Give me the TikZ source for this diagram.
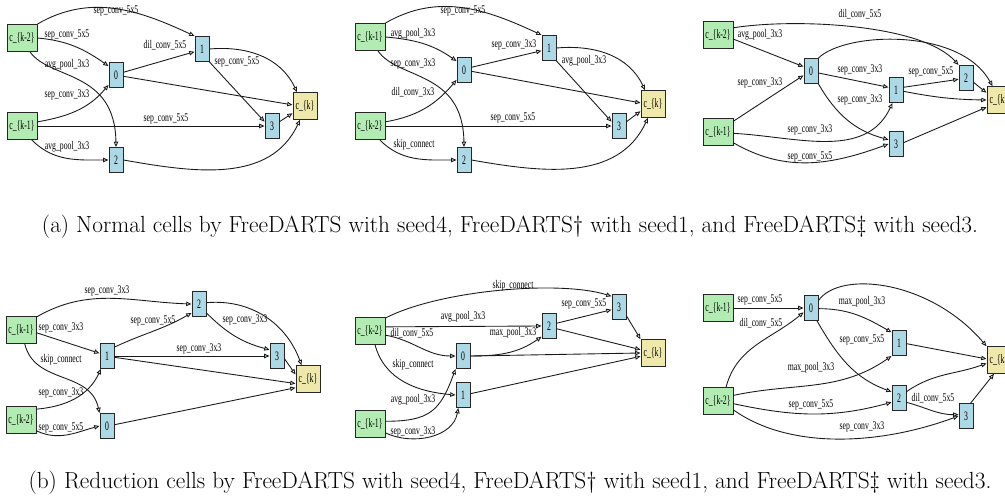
\documentclass[tikz,border=0pt]{standalone}
\usepackage{fontspec}
\usepackage{tikz}
\usetikzlibrary{arrows.meta}
\newfontfamily\opfont[FakeStretch=0.66]{Liberation Serif}
\newfontfamily\cellfont[FakeStretch=0.6]{Liberation Serif}
\definecolor{ingreen}{RGB}{178,236,178}
\definecolor{midblue}{RGB}{173,216,230}
\definecolor{outyellow}{RGB}{238,232,170}
\tikzset{cellnode/.style={rectangle, draw=black!85, line width=0.85pt, inner sep=0pt, font=\cellfont\fontsize{11}{11}\selectfont}}
\tikzset{innode/.style={cellnode, fill=ingreen, minimum width=0.9cm, minimum height=0.81cm}}
\tikzset{midnode/.style={cellnode, fill=midblue, minimum width=0.42cm, minimum height=0.75cm}}
\tikzset{outnode/.style={cellnode, fill=outyellow, minimum width=0.72cm, minimum height=0.8cm}}
\tikzset{oplabel/.style={inner sep=0pt, font=\opfont\fontsize{10}{10}\selectfont}}
\tikzset{opedge/.style={-{Triangle[open, length=4.5pt, width=3.8pt]}, line width=0.75pt, black!90}}
\tikzset{capline/.style={inner sep=0pt, font=\fontsize{19.9}{22}\selectfont}}

\begin{document}
\begin{tikzpicture}[x=0.03cm, y=0.03cm]
    \useasboundingbox (0,0) rectangle (1005,-502);

    % (a) normal cell, seed4
    \node[innode]  (p1c2) at (22,-38)   {c\_\{k-2\}};
    \node[innode]  (p1c1) at (22,-126)  {c\_\{k-1\}};
    \node[midnode] (p1n0) at (116,-75)  {0};
    \node[midnode] (p1n1) at (202,-49)  {1};
    \node[midnode] (p1n2) at (116,-160) {2};
    \node[midnode] (p1n3) at (272,-126) {3};
    \node[outnode] (p1ck) at (305,-106) {c\_\{k\}};

    \draw[opedge] (p1c2.north east) to[out=30,in=155] (p1n1.north west);
    \draw[opedge] (p1c2.east) to[out=-5,in=145] (p1n0.130);
    \draw[opedge] (p1c2.-60) .. controls (50,-80) and (115,-70) .. (p1n2.north);
    \draw[opedge] (p1c1.15) to[out=10,in=-130] (p1n0.-127);
    \draw[opedge] (p1c1.east) -- (p1n3.west);
    \draw[opedge] (p1c1.-55) to[out=-45,in=180] (p1n2.west);
    \draw[opedge] (p1n0.20) -- (p1n1.200);
    \draw[opedge] (p1n0.-10) -- (p1ck.175);
    \draw[opedge] (p1n1.east) to[out=5,in=115] (p1ck.120);
    \draw[opedge] (p1n1.south east) -- (p1n3.150);
    \draw[opedge] (p1n3.30) -- (p1ck.-150);
    \draw[opedge] (p1n2.east) to[out=-10,in=-115] (p1ck.-110);

    \node[oplabel] (p1l1) at (116,-11)  {sep\_conv\_5x5};
    \node[oplabel] (p1l2) at (67,-35)   {sep\_conv\_5x5};
    \node[oplabel] (p1l3) at (67,-65)   {avg\_pool\_3x3};
    \node[oplabel] (p1l4) at (67,-95)   {sep\_conv\_3x3};
    \node[oplabel] (p1l5) at (166,-119) {sep\_conv\_5x5};
    \node[oplabel] (p1l6) at (67,-147)  {avg\_pool\_3x3};
    \node[oplabel] (p1l7) at (165,-45)  {dil\_conv\_5x5};
    \node[oplabel] (p1l8) at (237,-62)  {sep\_conv\_5x5};

    % (a) normal cell, seed1
    \node[innode]  (p2c1) at (370,-37)  {c\_\{k-1\}};
    \node[innode]  (p2c2) at (370,-126) {c\_\{k-2\}};
    \node[midnode] (p2n0) at (464,-70)  {0};
    \node[midnode] (p2n1) at (549,-48)  {1};
    \node[midnode] (p2n2) at (464,-160) {2};
    \node[midnode] (p2n3) at (619,-126) {3};
    \node[outnode] (p2ck) at (653,-104) {c\_\{k\}};

    \draw[opedge] (p2c1.north east) to[out=30,in=155] (p2n1.north west);
    \draw[opedge] (p2c1.east) to[out=-5,in=145] (p2n0.130);
    \draw[opedge] (p2c1.-60) .. controls (398,-80) and (463,-70) .. (p2n2.north);
    \draw[opedge] (p2c2.15) to[out=10,in=-130] (p2n0.-127);
    \draw[opedge] (p2c2.east) -- (p2n3.west);
    \draw[opedge] (p2c2.-55) to[out=-45,in=180] (p2n2.west);
    \draw[opedge] (p2n0.20) -- (p2n1.200);
    \draw[opedge] (p2n0.-10) -- (p2ck.175);
    \draw[opedge] (p2n1.east) to[out=5,in=115] (p2ck.120);
    \draw[opedge] (p2n1.south east) -- (p2n3.150);
    \draw[opedge] (p2n3.30) -- (p2ck.-150);
    \draw[opedge] (p2n2.east) to[out=-10,in=-115] (p2ck.-110);

    \node[oplabel] (p2l1) at (463,-11)  {sep\_conv\_5x5};
    \node[oplabel] (p2l2) at (413,-34)  {avg\_pool\_3x3};
    \node[oplabel] (p2l3) at (413,-64)  {sep\_conv\_3x3};
    \node[oplabel] (p2l4) at (413,-92)  {dil\_conv\_3x3};
    \node[oplabel] (p2l5) at (513,-118) {sep\_conv\_5x5};
    \node[oplabel] (p2l6) at (414,-145) {skip\_connect};
    \node[oplabel] (p2l7) at (514,-45)  {sep\_conv\_3x3};
    \node[oplabel] (p2l8) at (584,-61)  {avg\_pool\_3x3};

    % (a) normal cell, seed3
    \node[innode]  (p3c2) at (718,-35)  {c\_\{k-2\}};
    \node[innode]  (p3c1) at (718,-132) {c\_\{k-1\}};
    \node[midnode] (p3n0) at (811,-71)  {0};
    \node[midnode] (p3n1) at (896,-90)  {1};
    \node[midnode] (p3n2) at (966,-78)  {2};
    \node[midnode] (p3n3) at (896,-144) {3};
    \node[outnode] (p3ck) at (999,-100) {c\_\{k\}};

    \draw[opedge] (p3c2.25) .. controls (795,-18) and (922,-24) .. (p3n2.north west);
    \draw[opedge] (p3c2.-15) -- (p3n0.150);
    \draw[opedge] (p3c1.35) -- (p3n0.-150);
    \draw[opedge] (p3c1.-5) to[out=-3,in=-115] (p3n1.-105);
    \draw[opedge] (p3c1.-35) to[out=-30,in=-160] (p3n3.west);
    \draw[opedge] (p3n0.north east) .. controls (845,-32) and (960,-27) .. (p3ck.115);
    \draw[opedge] (p3n0.-15) -- (p3n1.160);
    \draw[opedge] (p3n0.-60) to[out=-60,in=165] (p3n3.150);
    \draw[opedge] (p3n1.20) -- (p3n2.190);
    \draw[opedge] (p3n1.-10) to[bend right=5] (p3ck.west);
    \draw[opedge] (p3n2.-30) -- (p3ck.150);
    \draw[opedge] (p3n3.10) -- (p3ck.-150);

    \node[oplabel] (p3l1) at (860,-14)  {dil\_conv\_5x5};
    \node[oplabel] (p3l2) at (760,-35)  {avg\_pool\_3x3};
    \node[oplabel] (p3l3) at (760,-83)  {sep\_conv\_3x3};
    \node[oplabel] (p3l4) at (860,-70)  {sep\_conv\_3x3};
    \node[oplabel] (p3l5) at (860,-100) {sep\_conv\_3x3};
    \node[oplabel] (p3l6) at (931,-72)  {sep\_conv\_5x5};
    \node[oplabel] (p3l7) at (810,-130) {sep\_conv\_3x3};
    \node[oplabel] (p3l8) at (810,-157) {sep\_conv\_5x5};

    \node[capline] (capa) at (510,-227) {(a) Normal cells by FreeDARTS with seed4, FreeDARTS\textdagger{} with seed1, and FreeDARTS\textdaggerdbl{} with seed3.};

    % (b) reduction cell, seed4
    \node[innode]  (p4c1) at (21,-330)  {c\_\{k-1\}};
    \node[innode]  (p4c2) at (21,-420)  {c\_\{k-2\}};
    \node[midnode] (p4n1) at (107,-356) {1};
    \node[midnode] (p4n2) at (199,-304) {2};
    \node[midnode] (p4n3) at (277,-356) {3};
    \node[midnode] (p4n0) at (107,-426) {0};
    \node[outnode] (p4ck) at (308,-379) {c\_\{k\}};

    \draw[opedge] (p4c1.40) to[out=30,in=178] (p4n2.west);
    \draw[opedge] (p4c1.-10) -- (p4n1.160);
    \draw[opedge] (p4c1.-75) .. controls (35,-385) and (90,-370) .. (p4n0.north west);
    \draw[opedge] (p4c2.35) to[out=5,in=-115] (p4n1.-115);
    \draw[opedge] (p4c2.-35) to[out=-25,in=-165] (p4n0.west);
    \draw[opedge] (p4n1.50) to[out=25,in=-150] (p4n2.-130);
    \draw[opedge] (p4n1.east) -- (p4n3.west);
    \draw[opedge] (p4n1.-10) -- (p4ck.-160);
    \draw[opedge] (p4n2.-50) to[out=-45,in=165] (p4n3.140);
    \draw[opedge] (p4n2.10) to[out=5,in=110] (p4ck.115);
    \draw[opedge] (p4n3.-20) -- (p4ck.160);
    \draw[opedge] (p4n0.10) -- (p4ck.-145);

    \node[oplabel] (p4l1) at (107,-291) {sep\_conv\_3x3};
    \node[oplabel] (p4l2) at (61,-328)  {sep\_conv\_3x3};
    \node[oplabel] (p4l3) at (61,-360)  {skip\_connect};
    \node[oplabel] (p4l4) at (61,-393)  {sep\_conv\_3x3};
    \node[oplabel] (p4l5) at (61,-428)  {sep\_conv\_5x5};
    \node[oplabel] (p4l6) at (153,-321) {sep\_conv\_5x5};
    \node[oplabel] (p4l7) at (245,-320) {sep\_conv\_3x3};
    \node[oplabel] (p4l8) at (199,-349) {sep\_conv\_3x3};

    % (b) reduction cell, seed1
    \node[innode]  (p5c2) at (370,-331) {c\_\{k-2\}};
    \node[innode]  (p5c1) at (370,-424) {c\_\{k-1\}};
    \node[midnode] (p5n0) at (463,-356) {0};
    \node[midnode] (p5n1) at (463,-395) {1};
    \node[midnode] (p5n2) at (549,-326) {2};
    \node[midnode] (p5n3) at (619,-307) {3};
    \node[outnode] (p5ck) at (653,-353) {c\_\{k\}};

    \draw[opedge] (p5c2.40) .. controls (440,-290) and (560,-280) .. (p5n3.125);
    \draw[opedge] (p5c2.15) -- (p5n2.west);
    \draw[opedge] (p5c2.-15) to[out=-10,in=180] (p5n0.west);
    \draw[opedge] (p5c2.-70) to[out=-75,in=175] (p5n1.west);
    \draw[opedge] (p5c1.10) to[out=0,in=-110,looseness=1.3] (p5n0.-120);
    \draw[opedge] (p5c1.-30) to[out=-25,in=-100] (p5n1.-110);
    \draw[opedge] (p5n0.east) to[out=0,in=-145] (p5n2.-125);
    \draw[opedge] (p5n2.20) -- (p5n3.-160);
    \draw[opedge] (p5n2.-20) -- (p5ck.165);
    \draw[opedge] (p5n3.-50) -- (p5ck.north west);
    \draw[opedge] (p5n0.east) -- (p5ck.west);
    \draw[opedge] (p5n1.10) -- (p5ck.-165);

    \node[oplabel] (p5l1) at (513,-286) {skip\_connect};
    \node[oplabel] (p5l2) at (463,-317) {avg\_pool\_3x3};
    \node[oplabel] (p5l3) at (412,-333) {dil\_conv\_5x5};
    \node[oplabel] (p5l4) at (413,-365) {skip\_connect};
    \node[oplabel] (p5l5) at (413,-400) {avg\_pool\_3x3};
    \node[oplabel] (p5l6) at (413,-432) {sep\_conv\_3x3};
    \node[oplabel] (p5l7) at (513,-333) {max\_pool\_3x3};
    \node[oplabel] (p5l8) at (584,-304) {sep\_conv\_5x5};

    % (b) reduction cell, seed3
    \node[innode]  (p6c1) at (718,-308) {c\_\{k-1\}};
    \node[innode]  (p6c2) at (718,-401) {c\_\{k-2\}};
    \node[midnode] (p6n0) at (811,-308) {0};
    \node[midnode] (p6n1) at (899,-343) {1};
    \node[midnode] (p6n2) at (899,-398) {2};
    \node[midnode] (p6n3) at (966,-416) {3};
    \node[outnode] (p6ck) at (999,-360) {c\_\{k\}};

    \draw[opedge] (p6c1.east) -- (p6n0.west);
    \draw[opedge] (p6c2.60) to[out=75,in=-140] (p6n0.-150);
    \draw[opedge] (p6c2.20) to[out=12,in=-145] (p6n1.-120);
    \draw[opedge] (p6c2.-10) to[out=-12,in=-165] (p6n2.-150);
    \draw[opedge] (p6c2.-30) .. controls (790,-450) and (880,-445) .. (p6n3.west);
    \draw[opedge] (p6n0.45) .. controls (840,-270) and (930,-280) .. (p6ck.north west);
    \draw[opedge] (p6n0.-5) to[out=0,in=150] (p6n1.125);
    \draw[opedge] (p6n0.-65) to[out=-60,in=160] (p6n2.140);
    \draw[opedge] (p6n1.-5) -- (p6ck.175);
    \draw[opedge] (p6n2.40) to[out=35,in=-160] (p6ck.-165);
    \draw[opedge] (p6n2.-30) to[out=-15,in=180] (p6n3.170);
    \draw[opedge] (p6n3.70) -- (p6ck.-110);

    \node[oplabel] (p6l1) at (760,-300) {sep\_conv\_5x5};
    \node[oplabel] (p6l2) at (761,-323) {dil\_conv\_5x5};
    \node[oplabel] (p6l3) at (862,-302) {max\_pool\_3x3};
    \node[oplabel] (p6l4) at (862,-340) {sep\_conv\_5x5};
    \node[oplabel] (p6l5) at (811,-368) {max\_pool\_3x3};
    \node[oplabel] (p6l6) at (811,-405) {sep\_conv\_5x5};
    \node[oplabel] (p6l7) at (862,-427) {sep\_conv\_3x3};
    \node[oplabel] (p6l8) at (933,-398) {dil\_conv\_5x5};

    \node[capline] (capb) at (510,-483) {(b) Reduction cells by FreeDARTS with seed4, FreeDARTS\textdagger{} with seed1, and FreeDARTS\textdaggerdbl{} with seed3.};
\end{tikzpicture}
\end{document}
